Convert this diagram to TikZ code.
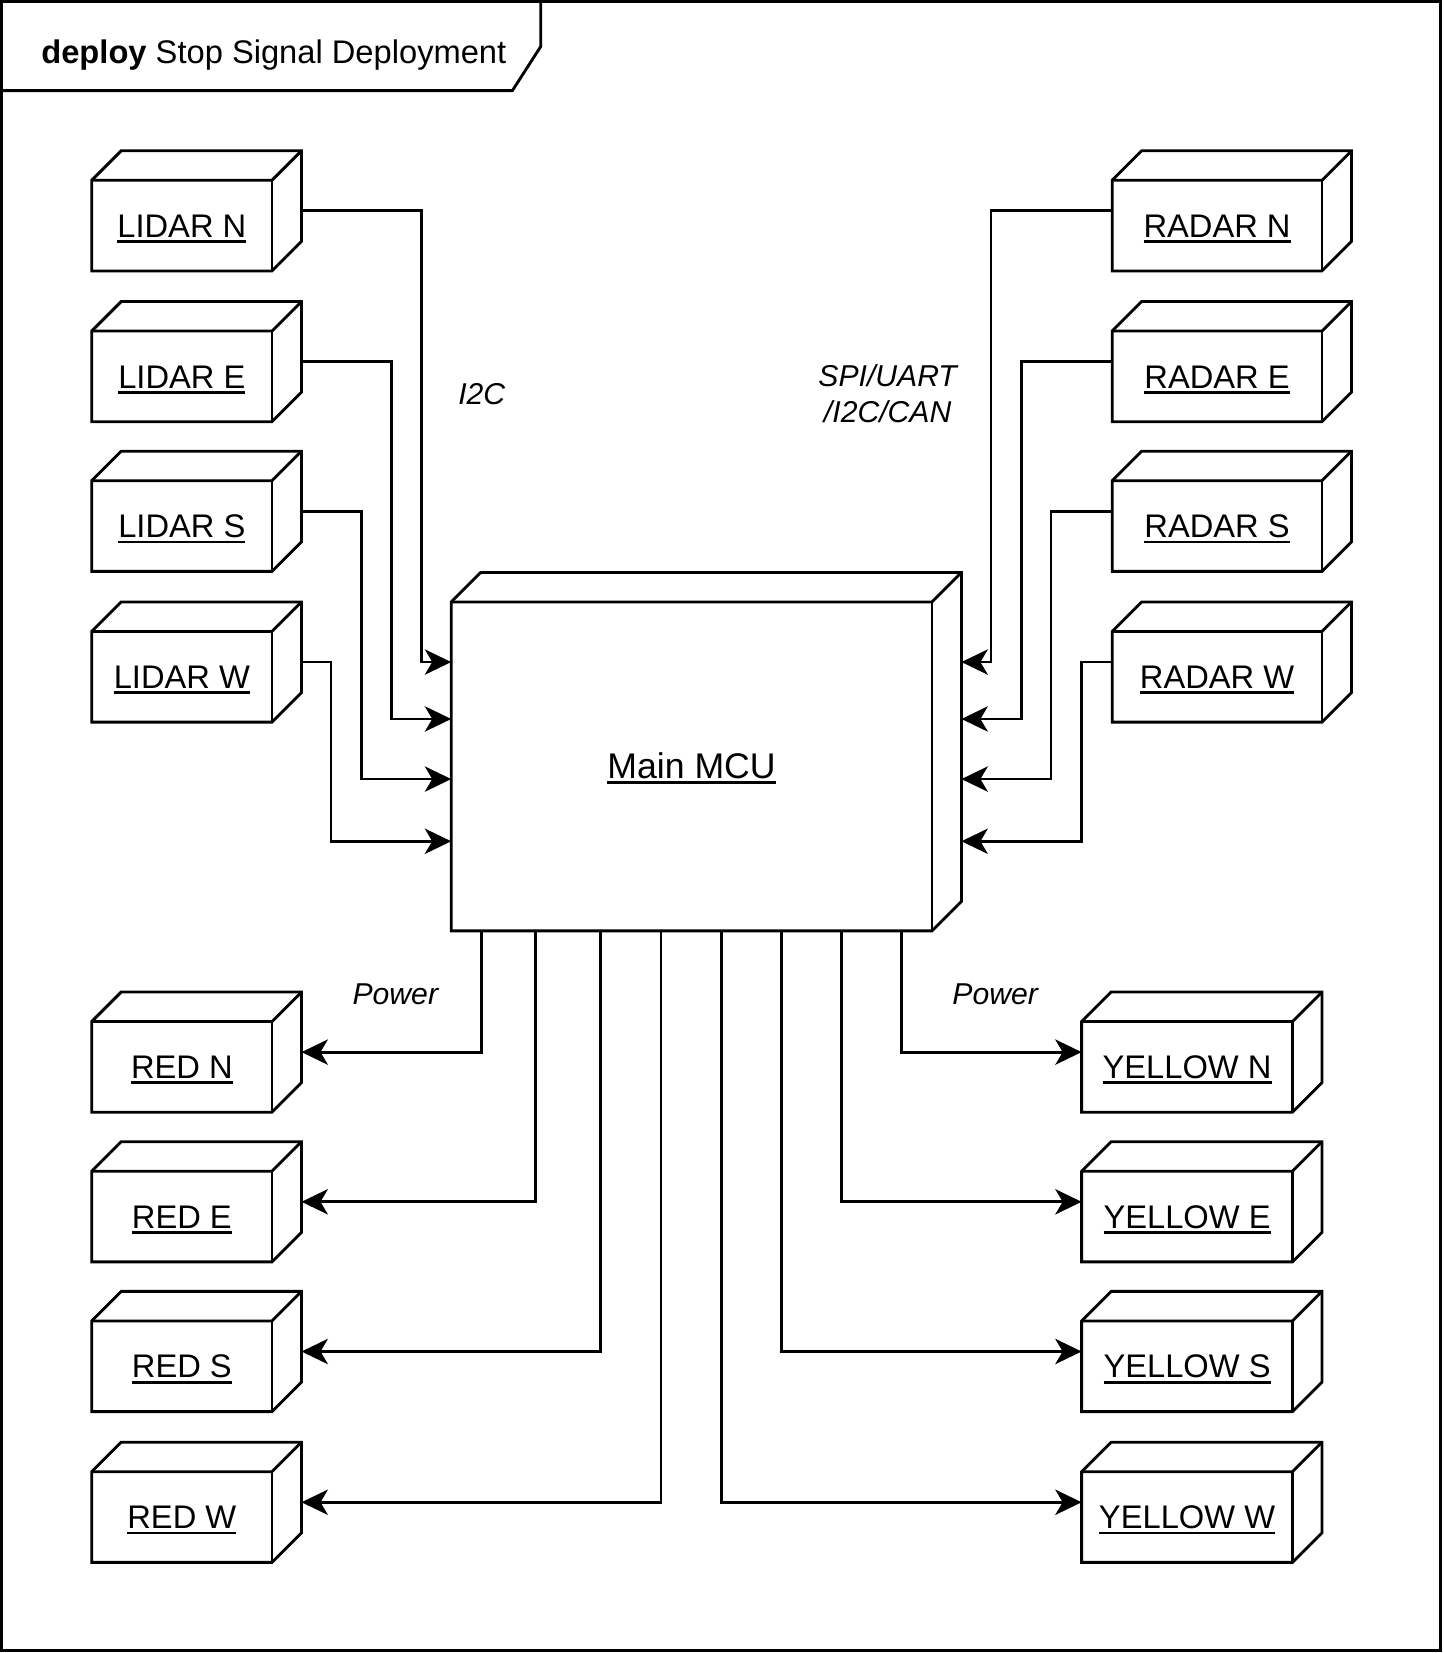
\documentclass[tikz,border=0pt]{standalone}
\usepackage{fontspec}
\setmainfont{Liberation Sans}
\usetikzlibrary{arrows.meta,calc}
\newcommand\ulx[1]{\setbox0\hbox{#1}\rlap{\rule[-5.3pt]{\wd0}{2.6pt}}\box0}
\tikzset{
  shapeline/.style={draw=black, line width=2.7pt, line join=miter},
  bound/.style={draw=none, inner sep=0pt, outer sep=0pt},
  lbl/.style={inner sep=0pt, font=\fontsize{31}{37}\selectfont},
  ilbl/.style={inner sep=0pt, font=\fontsize{28.6}{34}\selectfont\itshape},
  conn/.style={draw=black, line width=2.7pt, -{Stealth[length=25pt,width=24pt,inset=7pt]}},
}
\newcommand\cubenode[6]{%
  \node[bound, minimum width=#4pt, minimum height=#5pt, anchor=north west] (#1) at (#2,#3) {};
  \filldraw[shapeline, fill=white] (#1.south west) -- ($(#1.north west)+(0,28)$) -- ($(#1.north west)+(28,0)$) -- (#1.north east) -- ($(#1.south east)+(0,-28)$) -- ($(#1.south east)+(-28,0)$) -- cycle;
  \draw[shapeline] ($(#1.north west)+(0,28)$) -- ($(#1.north east)+(-28,28)$) -- (#1.north east);
  \draw[shapeline] ($(#1.north east)+(-28,28)$) -- ($(#1.south east)+(-28,0)$);
  \node[lbl, anchor=base] (#1-t) at ($(#1.center)+(-14,25.1)$) {\ulx{#6}};
}
\begin{document}
\begin{tikzpicture}[x=1pt, y=-1pt]
\fill[white] (0,0) rectangle (1369,1568);
\useasboundingbox (0,0) rectangle (1369,1568);
% frame
\draw[shapeline] (1.4,1.4) rectangle (1366.5,1566);
\draw[shapeline] (1.4,86) -- (486,86) -- (513,44) -- (513,1.4);
\node[lbl, anchor=base west] (title) at (39,60) {\textbf{deploy} Stop Signal Deployment};

% nodes
\cubenode{mcu}{428}{543}{484}{340}{\fontsize{33.8}{40}\selectfont Main MCU}
\cubenode{lN}{87}{143}{199}{114}{LIDAR N}
\cubenode{lE}{87}{286}{199}{114}{LIDAR E}
\cubenode{lS}{87}{428}{199}{114}{LIDAR S}
\cubenode{lW}{87}{571}{199}{114}{LIDAR W}
\cubenode{rN}{1055}{143}{227}{114}{RADAR N}
\cubenode{rE}{1055}{286}{227}{114}{RADAR E}
\cubenode{rS}{1055}{428}{227}{114}{RADAR S}
\cubenode{rW}{1055}{571}{227}{114}{RADAR W}
\cubenode{redN}{87}{941}{199}{114}{RED N}
\cubenode{redE}{87}{1083}{199}{114}{RED E}
\cubenode{redS}{87}{1225}{199}{114}{RED S}
\cubenode{redW}{87}{1368}{199}{114}{RED W}
\cubenode{yN}{1026}{941}{228}{114}{YELLOW N}
\cubenode{yE}{1026}{1083}{228}{114}{YELLOW E}
\cubenode{yS}{1026}{1225}{228}{114}{YELLOW S}
\cubenode{yW}{1026}{1368}{228}{114}{YELLOW W}

% LIDAR -> MCU
\draw[conn] (lN.east) -- ++(114,0) |- ($(mcu.north west)+(0,85)$);
\draw[conn] (lE.east) -- ++(85,0) |- ($(mcu.north west)+(0,139)$);
\draw[conn] (lS.east) -- ++(57,0) |- ($(mcu.north west)+(0,196)$);
\draw[conn] (lW.east) -- ++(28,0) |- ($(mcu.north west)+(0,255)$);
% RADAR -> MCU
\draw[conn] (rN.west) -- ++(-115,0) |- ($(mcu.north east)+(0,85)$);
\draw[conn] (rE.west) -- ++(-86,0) |- ($(mcu.north east)+(0,139)$);
\draw[conn] (rS.west) -- ++(-58,0) |- ($(mcu.north east)+(0,196)$);
\draw[conn] (rW.west) -- ++(-29,0) |- ($(mcu.north east)+(0,255)$);
% MCU -> RED
\draw[conn] ($(mcu.south west)+(29,0)$) |- (redN.east);
\draw[conn] ($(mcu.south west)+(80,0)$) |- (redE.east);
\draw[conn] ($(mcu.south west)+(142,0)$) |- (redS.east);
\draw[conn] ($(mcu.south west)+(199,0)$) |- (redW.east);
% MCU -> YELLOW
\draw[conn] ($(mcu.south west)+(427,0)$) |- (yN.west);
\draw[conn] ($(mcu.south west)+(370,0)$) |- (yE.west);
\draw[conn] ($(mcu.south west)+(313,0)$) |- (yS.west);
\draw[conn] ($(mcu.south west)+(256,0)$) |- (yW.west);

% labels
\node[ilbl, anchor=base] (i2c) at (457,384) {I2C};
\node[ilbl, anchor=base] (spi1) at (842,367) {SPI/UART};
\node[ilbl, anchor=base] (spi2) at (842,401) {/I2C/CAN};
\node[ilbl, anchor=base] (pw1) at (375,953) {Power};
\node[ilbl, anchor=base] (pw2) at (944,953) {Power};
\end{tikzpicture}
\end{document}
